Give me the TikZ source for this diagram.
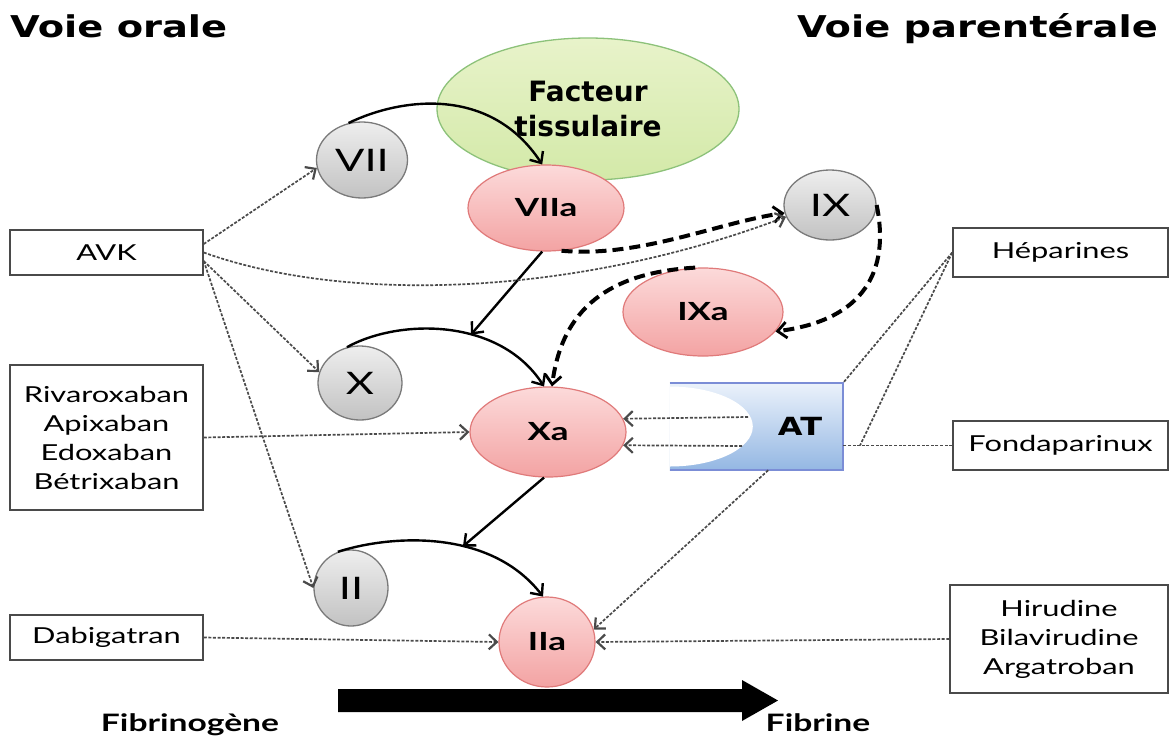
\documentclass[tikz,border=0pt]{standalone}
\usepackage{fontspec}
\setmainfont{Lato}[FakeStretch=1.4]
\newfontfamily\heavy{DejaVu Sans}[FakeStretch=1.28]
\newfontfamily\heavyn{DejaVu Sans}
\usetikzlibrary{arrows.meta,shapes.geometric}
\definecolor{grayA}{HTML}{EEEEEE}
\definecolor{grayB}{HTML}{C2C2C2}
\definecolor{grayline}{HTML}{7A7A7A}
\definecolor{pinkA}{HTML}{FCDADA}
\definecolor{pinkB}{HTML}{F3A3A3}
\definecolor{pinkline}{HTML}{E07A7A}
\definecolor{greenA}{HTML}{E8F3CA}
\definecolor{greenB}{HTML}{D3E9A8}
\definecolor{greenline}{HTML}{8DC27A}
\definecolor{atA}{HTML}{EBF2FB}
\definecolor{atB}{HTML}{94B7E3}
\definecolor{atline}{HTML}{7B8DD6}
\definecolor{dotc}{HTML}{4A4A4A}
\definecolor{boxline}{HTML}{4A4A4A}
\tikzset{
  gnode/.style={ellipse, draw=grayline, line width=1.3pt, top color=grayA, bottom color=grayB, inner sep=0pt, font=\fontsize{31}{31}\selectfont},
  pnode/.style={ellipse, draw=pinkline, line width=1.2pt, top color=pinkA, bottom color=pinkB, inner sep=0pt, font=\bfseries\fontsize{25}{25}\selectfont},
  drug/.style={rectangle, draw=boxline, line width=1.5pt, fill=white, inner sep=0pt, align=center, font=\fontsize{22}{29}\selectfont},
  dots/.style={draw=dotc, line width=1.7pt, dash pattern=on 3pt off 1.6pt},
  dotarr/.style={dots, -{Straight Barb[length=8pt,width=15pt,line width=2.2pt]}},
  solidarr/.style={draw=black, line width=2.4pt, -{Straight Barb[length=9pt,width=16pt]}},
  heavydash/.style={draw=black, line width=4pt, dash pattern=on 11pt off 6pt, -{Straight Barb[length=9pt,width=16pt,line width=2.8pt]}},
  title/.style={font=\heavy\bfseries\fontsize{30}{36}\selectfont, inner sep=0pt},
  bottomlbl/.style={font=\bfseries\fontsize{24}{24}\selectfont, inner sep=0pt}
}
\begin{document}
\begin{tikzpicture}[x=1pt,y=-1pt]
\fill[white] (0,0) rectangle (1170,737);
\useasboundingbox (0,0) rectangle (1170,737);

% titles
\node[title, anchor=base west] (tOral) at (10,37) {Voie orale};
\node[title, anchor=base east] (tPar) at (1158,37) {Voie parentérale};

% tissue factor
\node[ellipse, draw=greenline, line width=1.3pt, top color=greenA, bottom color=greenB,
      minimum width=302pt, minimum height=142pt, inner sep=0pt, align=center,
      font=\heavyn\bfseries\fontsize{28}{35}\selectfont] (FT) at (588,109) {Facteur\\tissulaire};

% factor nodes
\node[gnode, minimum width=91pt, minimum height=76pt] (VII) at (362,160) {VII};
\node[pnode, minimum width=156pt, minimum height=86pt] (VIIa) at (546,208) {VIIa};
\node[gnode, minimum width=92pt, minimum height=70pt] (IX) at (830,205) {IX};
\node[pnode, minimum width=160pt, minimum height=88pt] (IXa) at (703,312) {IXa};
\node[gnode, minimum width=84pt, minimum height=74pt] (X) at (360,383) {X};
\node[pnode, minimum width=156pt, minimum height=90pt] (Xa) at (548,432) {Xa};
\node[gnode, minimum width=74pt, minimum height=76pt] (II) at (351,588) {II};
\node[pnode, minimum width=96pt, minimum height=90pt] (IIa) at (547,642) {IIa};

% AT shape
\node[rectangle, minimum width=173pt, minimum height=87pt, inner sep=0pt] (AT) at (756.5,426.5) {};
\shade[top color=atA, bottom color=atB] (AT.south west) rectangle (AT.north east);
\begin{scope}
  \clip (AT.south west) rectangle (AT.north east);
  \fill[white] (AT.west) ellipse [x radius=83pt, y radius=40pt];
\end{scope}
\draw[atline, line width=1.8pt] (AT.north west) -- (AT.north east) -- (AT.south east) -- (AT.south west);
\node[font=\heavy\bfseries\fontsize{25}{25}\selectfont, inner sep=0pt] (ATt) at (800,426) {AT};

% drug boxes
\node[drug, minimum width=193pt, minimum height=45pt] (AVK) at (106.5,252.5) {AVK};
\node[drug, minimum width=193pt, minimum height=145pt] (Riva) at (106.5,437.5) {Rivaroxaban\\Apixaban\\Edoxaban\\Bétrixaban};
\node[drug, minimum width=193pt, minimum height=45pt] (Dabi) at (106.5,637.5) {Dabigatran};
\node[drug, minimum width=215pt, minimum height=49pt] (Hep) at (1060.5,252.5) {Héparines};
\node[drug, minimum width=215pt, minimum height=49pt] (Fonda) at (1060.5,445.5) {Fondaparinux};
\node[drug, minimum width=218pt, minimum height=108pt] (Hir) at (1059,639) {Hirudine\\Bilavirudine\\Argatroban};

% cascade (solid)
\draw[solidarr] (VII.110) .. controls (400,98) and (490,85) .. (VIIa.95);
\draw[solidarr] (X.110) .. controls (400,318) and (500,318) .. (Xa.95) coordinate[pos=0.6] (j1);
\draw[solidarr] (VIIa.265) -- (j1);
\draw[solidarr] (II.110) .. controls (390,535) and (490,528) .. (IIa.95) coordinate[pos=0.6] (j2);
\draw[solidarr] (Xa.265) -- (j2);

% intrinsic (heavy dashed)
\draw[heavydash] (VIIa.290) .. controls (640,258) and (720,222) .. (IX.190);
\draw[heavydash] (IX.east) .. controls (890,270) and (865,320) .. (IXa.-15);
\draw[heavydash] (IXa.100) .. controls (620,272) and (563,300) .. (Xa.85);

% AVK
\draw[dotarr] (AVK.5) -- (VII.190);
\draw[dotarr] (AVK.east) .. controls (350,305) and (580,295) .. (IX.195);
\draw[dotarr] (AVK.-5) -- (X.165);
\draw[dotarr] (AVK.-5) -- (II.west);

% direct inhibitors
\draw[dotarr] (Riva.east) -- (Xa.west);
\draw[dotarr] (Dabi.east) -- (IIa.west);
\draw[dotarr] (Hir.west) -- (IIa.east);

% AT actions
\coordinate (at1) at (748,417);
\coordinate (at2) at (742,446);
\draw[dotarr] (at1) -- (Xa.10);
\draw[dotarr] (at2) -- (Xa.-10);
\draw[dotarr] (AT.-75) -- (IIa.15);

% heparins / fondaparinux
\coordinate (hj) at (860,445.5);
\draw[dots] (Fonda.west) -- (Fonda.west -| AT.east);
\draw[dots] (Hep.west) -- (AT.north east);
\draw[dots] (Hep.west) -- (hj);

% fibrinogen -> fibrin
\fill[black] (338,689) -- (742,689) -- (742,680) -- (778,700.5) -- (742,721) -- (742,712) -- (338,712) -- cycle;
\node[bottomlbl, anchor=base] (Fgn) at (190,731) {Fibrinogène};
\node[bottomlbl, anchor=base] (Fbn) at (818,731) {Fibrine};
\end{tikzpicture}
\end{document}
